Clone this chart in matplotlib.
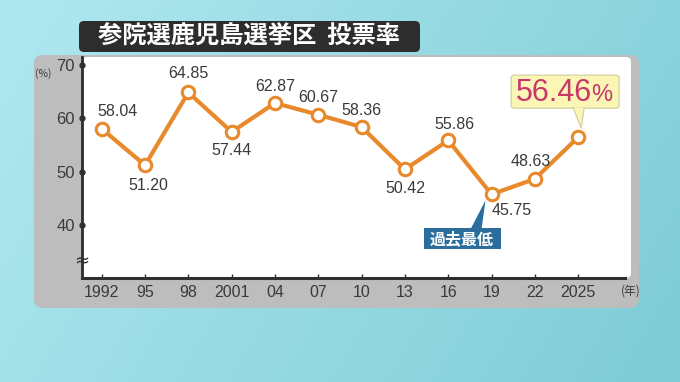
import numpy as np
import matplotlib
matplotlib.use('Agg')
import matplotlib.pyplot as plt
from matplotlib.patches import FancyBboxPatch, Polygon

# data
years = ['1992', '95', '98', '2001', '04', '07', '10', '13', '16', '19', '22', '2025']
turnout = [58.04, 51.20, 64.85, 57.44, 62.87, 60.67, 58.36, 50.42, 55.86, 45.75, 48.63, 56.46]
yticks = [40, 50, 60, 70]
title = '参院選鹿児島選挙区  投票率'
low_label = '過去最低'

NUM = 'Liberation Sans'
JP = ['Noto Sans CJK JP', 'DejaVu Sans']
TXT = '#3a3a3a'
ORANGE = '#e8892c'

fig = plt.figure(figsize=(6.8, 3.82), dpi=100)

# background layer in pixel coordinates
bg = fig.add_axes([0, 0, 1, 1], zorder=0)
bg.set_xlim(0, 680)
bg.set_ylim(382, 0)
bg.axis('off')
gx, gy = np.meshgrid(np.linspace(0, 1, 200), np.linspace(0, 1, 120))
t = np.clip(0.75 * gx + 0.25 * gy, 0, 1)
c0 = np.array([176, 232, 240]) / 255
c1 = np.array([126, 204, 214]) / 255
grad = c0[None, None, :] * (1 - t[..., None]) + c1[None, None, :] * t[..., None]
bg.imshow(grad, extent=[0, 680, 382, 0], aspect='auto', interpolation='bilinear')

bg.add_patch(FancyBboxPatch((34, 55), 605, 253, boxstyle='round,pad=0,rounding_size=9',
                            fc='#bdbdbd', ec='none'))
bg.add_patch(FancyBboxPatch((82, 57), 549, 221, boxstyle='round,pad=0,rounding_size=5',
                            fc='white', ec='none'))
bg.add_patch(FancyBboxPatch((79, 21), 341, 31, boxstyle='round,pad=0,rounding_size=5',
                            fc='#2d2d2d', ec='none'))
bg.text(249.5, 36.5, title, color='white', fontsize=17.5, fontweight='bold',
        family=JP, ha='center', va='center')

# main chart
ax = fig.add_axes([82 / 680, 104 / 382, 549 / 680, 221 / 382], zorder=2)
ax.patch.set_alpha(0)
x = np.arange(len(years))
ax.set_xlim(-0.455, 12.22)
ax.set_ylim(30.05, 71.5)

for s in ['top', 'right']:
    ax.spines[s].set_visible(False)
ax.spines['left'].set_color('#2e2e2e')
ax.spines['left'].set_linewidth(2)
ax.spines['bottom'].set_color('#2e2e2e')
ax.spines['bottom'].set_linewidth(2.2)
ax.spines['bottom'].set_bounds(-0.455, 12.07)

ax.set_xticks(x)
ax.set_xticklabels(years, fontsize=11.5, family=NUM, color=TXT)
ax.tick_params(axis='x', direction='in', length=3, width=1, color='#2e2e2e', pad=5)
ax.set_yticks(yticks)
ax.set_yticklabels([str(v) for v in yticks], fontsize=12, family=NUM, color=TXT)
ax.tick_params(axis='y', length=0, pad=5)
ax.plot([ax.get_xlim()[0]] * len(yticks), yticks, 'o', color='#2e2e2e', ms=3.5,
        clip_on=False, zorder=5)

# axis break mark
ax.text(ax.get_xlim()[0], 33.1, '≈', fontsize=13, color='#2e2e2e', ha='center', va='center',
        family='DejaVu Sans', clip_on=False, zorder=6)

ax.plot(x, turnout, color=ORANGE, lw=3, marker='o', ms=9, mfc='white', mec=ORANGE,
        mew=2.2, zorder=4, clip_on=False)

# value labels (offsets in pixels)
offsets = [(16, 17), (3, -20), (0, 19), (0, -19), (0, 17), (0, 17), (0, 17),
           (0, -19), (6, 16), (20, -16), (-4, 17)]
for i, (dx, dy) in enumerate(offsets):
    ax.annotate(f'{turnout[i]:.2f}', (x[i], turnout[i]), xytext=(dx * 0.72, dy * 0.72),
                textcoords='offset points', ha='center', va='center', fontsize=11.5,
                family=NUM, color=TXT, zorder=6)

ax.text(1.0, -0.06, '(年)', transform=ax.transAxes, fontsize=8.5, family=JP,
        color=TXT, ha='center', va='center')
ax.text(-0.07, 0.924, '(%)', transform=ax.transAxes, fontsize=7.5, family=JP,
        color=TXT, ha='center', va='center')

# callouts, placed from the point positions in pixel space
to_px = lambda xy: bg.transData.inverted().transform(ax.transData.transform(xy))
px, py = to_px((x[-1], turnout[-1]))
bg.add_patch(FancyBboxPatch((px - 67, py - 62), 108, 33,
                            boxstyle='round,pad=0,rounding_size=3',
                            fc='#fbf6b6', ec='#d9d4a4', lw=1, zorder=3))
bg.add_patch(Polygon([(px - 5, py - 29.5), (px + 6, py - 29.5), (px + 3, py - 9)],
                     closed=True, fc='#fbf6b6', ec='none', zorder=4))
bg.plot([px - 5, px + 3, px + 6], [py - 29.5, py - 9, py - 29.5], color='#d9d4a4', lw=1, zorder=4)
bg.text(px - 24, py - 44, f'{turnout[-1]:.2f}', fontsize=22, family=NUM, color='#c9386b',
        ha='center', va='center', zorder=5)
bg.text(px + 24, py - 42.5, '%', fontsize=17, family=NUM, color='#c9386b',
        ha='center', va='center', zorder=5)

lx, ly = to_px((x[9], turnout[9]))
bg.add_patch(Polygon([(lx - 21, ly + 35), (lx - 10, ly + 35), (lx - 6, ly + 6)],
                     closed=True, fc='#2b6e9e', ec='none', zorder=3))
bg.add_patch(FancyBboxPatch((lx - 68, ly + 34), 77, 21, boxstyle='square,pad=0',
                            fc='#2b6e9e', ec='none', zorder=3))
bg.text(lx - 29.5, ly + 44.5, low_label, fontsize=11.5, fontweight='bold', family=JP,
        color='white', ha='center', va='center', zorder=4)

fig.savefig('out.png', dpi=100)
